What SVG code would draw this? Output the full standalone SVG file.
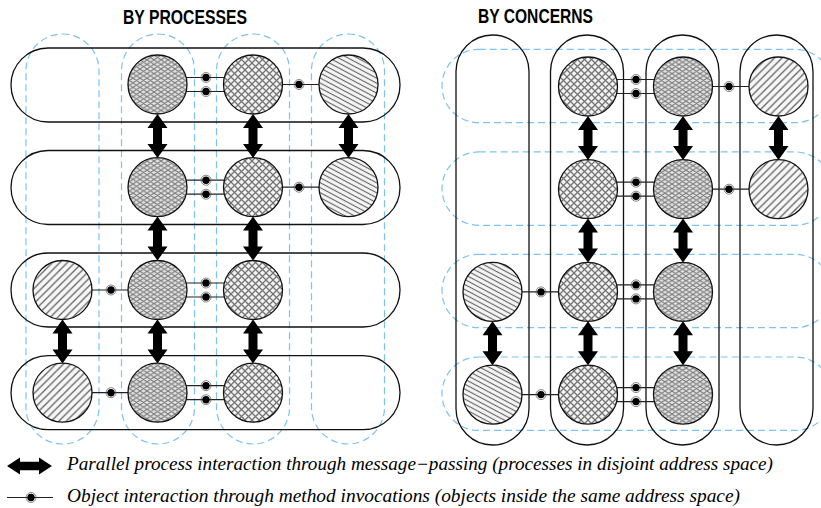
<svg xmlns="http://www.w3.org/2000/svg" xmlns:xlink="http://www.w3.org/1999/xlink" width="821" height="508" viewBox="0 0 821 508">
  <style>
    .title { font-family: "Liberation Sans", Arial, sans-serif; font-weight: bold; font-size: 19.5px; fill: #000; }
    .legend { font-family: "Liberation Serif", "Times New Roman", serif; font-style: italic; font-size: 18px; fill: #000; }
    .pill { fill: none; stroke: #111; stroke-width: 1.3; }
    .guide { fill: none; stroke: #7cc3f3; stroke-width: 1.2; stroke-dasharray: 7 4; }
    .obj { stroke: #111; stroke-width: 1.3; }
    .mesh { fill: url(#pMesh); }
    .diamond { fill: url(#pDiamond); }
    .slash { fill: url(#pSlash); }
    .bslash { fill: url(#pBslash); }
    .link { stroke: #222; stroke-width: 1.2; }
  </style>
  <defs>
    <!-- fine woven mesh -->
    <pattern id="pMesh" patternUnits="userSpaceOnUse" width="7" height="4.6">
      <rect width="7" height="4.6" fill="#e2e2e2"/>
      <path d="M0,0 L3.5,2.3 L7,0 M0,4.6 L3.5,2.3 L7,4.6" fill="none" stroke="#7c7c7c" stroke-width="1"/>
    </pattern>
    <!-- diamond cross-hatch -->
    <pattern id="pDiamond" patternUnits="userSpaceOnUse" width="7" height="7">
      <rect width="7" height="7" fill="#f2f2f2"/>
      <path d="M0,0 L7,7 M7,0 L0,7" fill="none" stroke="#747474" stroke-width="1.25"/>
    </pattern>
    <!-- forward diagonal lines -->
    <pattern id="pSlash" patternUnits="userSpaceOnUse" width="7.5" height="7.5">
      <rect width="7.5" height="7.5" fill="#f7f7f7"/>
      <path d="M0,7.5 L7.5,0 M-2,2 L2,-2 M5.5,9.5 L9.5,5.5" fill="none" stroke="#606060" stroke-width="1.25"/>
    </pattern>
    <!-- shallow back diagonal lines -->
    <pattern id="pBslash" patternUnits="userSpaceOnUse" width="10" height="4.4" patternTransform="rotate(28)">
      <rect x="-1" y="-1" width="12" height="6.4" fill="#f7f7f7"/>
      <path d="M-1,2.2 L11,2.2" fill="none" stroke="#666" stroke-width="1.15"/>
    </pattern>
    <!-- message-passing double arrow -->
    <path id="dArrow" d="M0,-22 L10,-8 L4.5,-8 L4.5,8 L10,8 L0,22 L-10,8 L-4.5,8 L-4.5,-8 L-10,-8 Z" fill="#000"/>
    <!-- method invocation dot -->
    <g id="mDot">
      <circle r="5" fill="none" stroke="#555" stroke-width="0.7"/>
      <circle r="3.7" fill="#000"/>
    </g>
  </defs>

  <rect width="821" height="508" fill="#fff"/>

  <!-- titles -->
  <text class="title" x="123" y="24" textLength="124" lengthAdjust="spacingAndGlyphs">BY PROCESSES</text>
  <text class="title" x="478" y="23" textLength="115" lengthAdjust="spacingAndGlyphs">BY CONCERNS</text>

  <!-- ===== left panel: address spaces split by process ===== -->
  <g id="left-guides">
    <rect class="guide" x="26" y="34" width="73" height="410" rx="36.5"/>
    <rect class="guide" x="121.5" y="34" width="73" height="410" rx="36.5"/>
    <rect class="guide" x="216.5" y="34" width="73" height="410" rx="36.5"/>
    <rect class="guide" x="311.5" y="34" width="73" height="410" rx="36.5"/>
  </g>
  <g id="proc-1"><rect class="pill" x="11" y="48" width="389" height="74" rx="37"/></g>
  <g id="proc-2"><rect class="pill" x="11" y="150.5" width="389" height="74" rx="37"/></g>
  <g id="proc-3"><rect class="pill" x="11" y="253" width="389" height="74" rx="37"/></g>
  <g id="proc-4"><rect class="pill" x="11" y="355.7" width="389" height="74" rx="37"/></g>

  <!-- ===== right panel: address spaces split by concern ===== -->
  <g id="right-guides">
    <rect class="guide" x="442" y="49.3" width="390" height="73.4" rx="36.7"/>
    <rect class="guide" x="442" y="151.9" width="390" height="73.4" rx="36.7"/>
    <rect class="guide" x="442" y="254.3" width="390" height="73.4" rx="36.7"/>
    <rect class="guide" x="442" y="357" width="390" height="73.4" rx="36.7"/>
  </g>
  <g id="concern-1"><rect class="pill" x="456" y="35" width="73" height="410" rx="36.5"/></g>
  <g id="concern-2"><rect class="pill" x="550.5" y="35" width="73" height="410" rx="36.5"/></g>
  <g id="concern-3"><rect class="pill" x="646" y="35" width="73" height="410" rx="36.5"/></g>
  <g id="concern-4"><rect class="pill" x="740" y="35" width="73" height="410" rx="36.5"/></g>

  <!-- connectors -->
  <g id="connectors">
    <!-- left: method invocations -->
    <g class="link">
      <line x1="186" y1="77.5" x2="225" y2="77.5"/><line x1="186" y1="91.5" x2="225" y2="91.5"/>
      <line x1="282" y1="84.5" x2="320" y2="84.5"/>
      <line x1="186" y1="180.2" x2="225" y2="180.2"/><line x1="186" y1="194.2" x2="225" y2="194.2"/>
      <line x1="282" y1="187.2" x2="320" y2="187.2"/>
      <line x1="91" y1="290" x2="129" y2="290"/>
      <line x1="186" y1="283" x2="225" y2="283"/><line x1="186" y1="297" x2="225" y2="297"/>
      <line x1="91" y1="392.7" x2="129" y2="392.7"/>
      <line x1="186" y1="385.7" x2="225" y2="385.7"/><line x1="186" y1="399.7" x2="225" y2="399.7"/>
    </g>
    <use xlink:href="#mDot" x="206" y="77.5"/><use xlink:href="#mDot" x="206" y="91.5"/>
    <use xlink:href="#mDot" x="299" y="84.5"/>
    <use xlink:href="#mDot" x="206" y="180.2"/><use xlink:href="#mDot" x="206" y="194.2"/>
    <use xlink:href="#mDot" x="299" y="187.2"/>
    <use xlink:href="#mDot" x="111" y="290"/>
    <use xlink:href="#mDot" x="206" y="283"/><use xlink:href="#mDot" x="206" y="297"/>
    <use xlink:href="#mDot" x="111" y="392.7"/>
    <use xlink:href="#mDot" x="206" y="385.7"/><use xlink:href="#mDot" x="206" y="399.7"/>

    <!-- left: message passing -->
    <use xlink:href="#dArrow" x="157.5" y="135.9"/>
    <use xlink:href="#dArrow" x="253" y="135.9"/>
    <use xlink:href="#dArrow" x="348.5" y="135.9"/>
    <use xlink:href="#dArrow" x="157.5" y="238.6"/>
    <use xlink:href="#dArrow" x="253" y="238.6"/>
    <use xlink:href="#dArrow" x="62.5" y="341.4"/>
    <use xlink:href="#dArrow" x="157.5" y="341.4"/>
    <use xlink:href="#dArrow" x="253" y="341.4"/>

    <!-- right: method invocations -->
    <g class="link">
      <line x1="617" y1="79.5" x2="654" y2="79.5"/><line x1="617" y1="93.5" x2="654" y2="93.5"/>
      <line x1="712" y1="86.5" x2="750" y2="86.5"/>
      <line x1="617" y1="182.2" x2="654" y2="182.2"/><line x1="617" y1="196.2" x2="654" y2="196.2"/>
      <line x1="712" y1="189.2" x2="750" y2="189.2"/>
      <line x1="521" y1="291.9" x2="559" y2="291.9"/>
      <line x1="617" y1="284.9" x2="654" y2="284.9"/><line x1="617" y1="298.9" x2="654" y2="298.9"/>
      <line x1="521" y1="394.6" x2="559" y2="394.6"/>
      <line x1="617" y1="387.6" x2="654" y2="387.6"/><line x1="617" y1="401.6" x2="654" y2="401.6"/>
    </g>
    <use xlink:href="#mDot" x="636" y="79.5"/><use xlink:href="#mDot" x="636" y="93.5"/>
    <use xlink:href="#mDot" x="729" y="86.5"/>
    <use xlink:href="#mDot" x="636" y="182.2"/><use xlink:href="#mDot" x="636" y="196.2"/>
    <use xlink:href="#mDot" x="729" y="189.2"/>
    <use xlink:href="#mDot" x="541" y="291.9"/>
    <use xlink:href="#mDot" x="636" y="284.9"/><use xlink:href="#mDot" x="636" y="298.9"/>
    <use xlink:href="#mDot" x="541" y="394.6"/>
    <use xlink:href="#mDot" x="636" y="387.6"/><use xlink:href="#mDot" x="636" y="401.6"/>

    <!-- right: message passing -->
    <use xlink:href="#dArrow" x="588" y="137.9"/>
    <use xlink:href="#dArrow" x="683" y="137.9"/>
    <use xlink:href="#dArrow" x="778.5" y="137.9"/>
    <use xlink:href="#dArrow" x="588" y="240.6"/>
    <use xlink:href="#dArrow" x="683" y="240.6"/>
    <use xlink:href="#dArrow" x="492.5" y="343.3"/>
    <use xlink:href="#dArrow" x="588" y="343.3"/>
    <use xlink:href="#dArrow" x="683" y="343.3"/>
  </g>

  <!-- objects, left panel -->
  <g id="L-r1-c2"><circle class="obj mesh" cx="157.5" cy="84.5" r="29.5"/></g>
  <g id="L-r1-c3"><circle class="obj diamond" cx="253" cy="84.5" r="29.5"/></g>
  <g id="L-r1-c4"><circle class="obj bslash" cx="348.5" cy="84.5" r="29.5"/></g>
  <g id="L-r2-c2"><circle class="obj mesh" cx="157.5" cy="187.2" r="29.5"/></g>
  <g id="L-r2-c3"><circle class="obj diamond" cx="253" cy="187.2" r="29.5"/></g>
  <g id="L-r2-c4"><circle class="obj bslash" cx="348.5" cy="187.2" r="29.5"/></g>
  <g id="L-r3-c1"><circle class="obj slash" cx="62.5" cy="290" r="29.5"/></g>
  <g id="L-r3-c2"><circle class="obj mesh" cx="157.5" cy="290" r="29.5"/></g>
  <g id="L-r3-c3"><circle class="obj diamond" cx="253" cy="290" r="29.5"/></g>
  <g id="L-r4-c1"><circle class="obj slash" cx="62.5" cy="392.7" r="29.5"/></g>
  <g id="L-r4-c2"><circle class="obj mesh" cx="157.5" cy="392.7" r="29.5"/></g>
  <g id="L-r4-c3"><circle class="obj diamond" cx="253" cy="392.7" r="29.5"/></g>

  <!-- objects, right panel -->
  <g id="R-r1-c2"><circle class="obj diamond" cx="588" cy="86.5" r="29.5"/></g>
  <g id="R-r1-c3"><circle class="obj mesh" cx="683" cy="86.5" r="29.5"/></g>
  <g id="R-r1-c4"><circle class="obj slash" cx="778.5" cy="86.5" r="29.5"/></g>
  <g id="R-r2-c2"><circle class="obj diamond" cx="588" cy="189.2" r="29.5"/></g>
  <g id="R-r2-c3"><circle class="obj mesh" cx="683" cy="189.2" r="29.5"/></g>
  <g id="R-r2-c4"><circle class="obj slash" cx="778.5" cy="189.2" r="29.5"/></g>
  <g id="R-r3-c1"><circle class="obj bslash" cx="492.5" cy="291.9" r="29.5"/></g>
  <g id="R-r3-c2"><circle class="obj diamond" cx="588" cy="291.9" r="29.5"/></g>
  <g id="R-r3-c3"><circle class="obj mesh" cx="683" cy="291.9" r="29.5"/></g>
  <g id="R-r4-c1"><circle class="obj bslash" cx="492.5" cy="394.6" r="29.5"/></g>
  <g id="R-r4-c2"><circle class="obj diamond" cx="588" cy="394.6" r="29.5"/></g>
  <g id="R-r4-c3"><circle class="obj mesh" cx="683" cy="394.6" r="29.5"/></g>

  <!-- legend -->
  <g id="legend">
    <path d="M7,466 L20,457.5 L20,461.8 L39,461.8 L39,457.5 L52,466 L39,474.5 L39,470.2 L20,470.2 L20,474.5 Z" fill="#000"/>
    <text class="legend" x="67" y="470" textLength="706" lengthAdjust="spacingAndGlyphs">Parallel process interaction through message−passing (processes in disjoint address space)</text>
    <line class="link" x1="7" y1="497.5" x2="53" y2="497.5"/>
    <use xlink:href="#mDot" x="31" y="497.5"/>
    <text class="legend" x="67" y="502" textLength="673" lengthAdjust="spacingAndGlyphs">Object interaction through method invocations (objects inside the same address space)</text>
  </g>
</svg>
